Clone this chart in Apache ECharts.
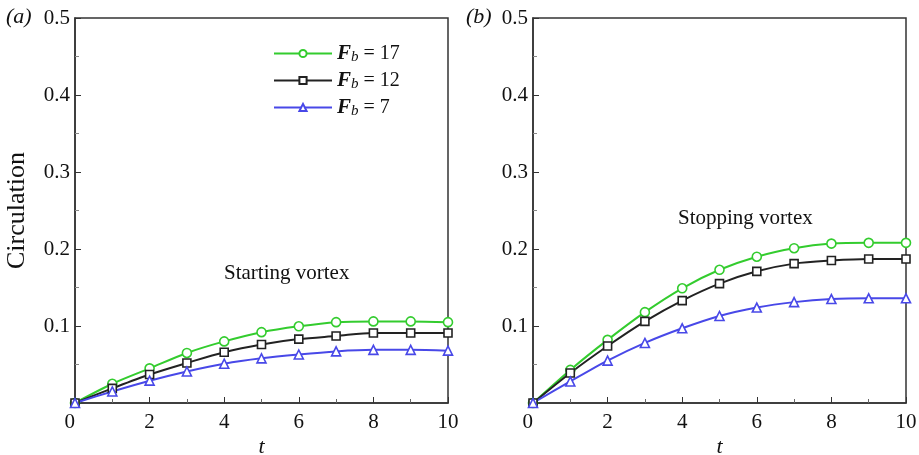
<!DOCTYPE html>
<html>
<head>
<meta charset="utf-8">
<script src="https://cdn.jsdelivr.net/npm/echarts@6/dist/echarts.min.js"></script>
<style>
  html, body { margin: 0; padding: 0; background: #fff; }
  #chart { width: 919px; height: 455px; }
</style>
</head>
<body>
<div id="chart"></div>
<script>
// time steps
const tValues = [0, 1, 2, 3, 4, 5, 6, 7, 8, 9, 10];

// (a) starting vortex
const startFb17 = [0, 0.025, 0.045, 0.065, 0.080, 0.092, 0.0996, 0.105, 0.106, 0.106, 0.105];
const startFb12 = [0, 0.019, 0.037, 0.052, 0.066, 0.076, 0.083, 0.087, 0.091, 0.091, 0.091];
const startFb7 = [0, 0.015, 0.029, 0.041, 0.051, 0.058, 0.063, 0.067, 0.069, 0.069, 0.068];

// (b) stopping vortex
const stopFb17 = [0, 0.043, 0.082, 0.118, 0.149, 0.173, 0.190, 0.201, 0.207, 0.208, 0.208];
const stopFb12 = [0, 0.039, 0.074, 0.106, 0.133, 0.155, 0.171, 0.181, 0.185, 0.187, 0.187];
const stopFb7 = [0, 0.028, 0.055, 0.078, 0.097, 0.113, 0.124, 0.131, 0.135, 0.136, 0.136];

const legendNames = ["Fb17", "Fb12", "Fb7"];
const legendLabels = { Fb17: "17", Fb12: "12", Fb7: "7" };

const serif = "Liberation Serif";
const green = "#33cc2e";
const black = "#222222";
const blue = "#4848e8";

const pairs = (ys) => tValues.map((t, i) => [t, ys[i]]);

function mkSeries(name, ys, idx, color, symbol, size) {
  return {
    name: name,
    type: "line",
    xAxisIndex: idx,
    yAxisIndex: idx,
    data: pairs(ys),
    smooth: 0.3,
    symbol: symbol,
    symbolSize: size,
    showSymbol: true,
    lineStyle: { color: color, width: 2 },
    itemStyle: { color: "#fff", borderColor: color, borderWidth: 1.6 },
    z: 3,
  };
}

function mkX(idx) {
  return {
    type: "value",
    gridIndex: idx,
    min: 0,
    max: 10,
    interval: 2,
    name: "t",
    nameLocation: "middle",
    nameGap: 33,
    nameMoveOverlap: false,
    nameTextStyle: { fontFamily: serif, fontStyle: "italic", fontSize: 22, color: "#111", verticalAlign: "top" },
    axisLine: { lineStyle: { color: "#333", width: 1.5 } },
    axisTick: { inside: true, length: 6, lineStyle: { color: "#333" } },
    minorTick: { show: true, splitNumber: 2, length: 4, lineStyle: { color: "#666" } },
    axisLabel: { fontFamily: serif, fontSize: 21, color: "#111", margin: 9, alignMinLabel: "right" },
    splitLine: { show: false },
  };
}

function mkY(idx, withName) {
  return {
    type: "value",
    gridIndex: idx,
    min: 0,
    max: 0.5,
    interval: 0.1,
    name: withName ? "Circulation" : "",
    nameLocation: "middle",
    nameGap: 45,
    nameTextStyle: { fontFamily: serif, fontSize: 26, color: "#111" },
    axisLine: { lineStyle: { color: "#333", width: 1.5 } },
    axisTick: { inside: true, length: 6, lineStyle: { color: "#333" } },
    minorTick: { show: true, splitNumber: 2, length: 4, lineStyle: { color: "#888" } },
    axisLabel: {
      fontFamily: serif,
      fontSize: 21,
      color: "#111",
      margin: 5,
      formatter: (v) => (v === 0 ? "" : v.toFixed(1)),
    },
    splitLine: { show: false },
  };
}

const gridBase = { top: 18, bottom: 52, show: true, borderColor: "#333", borderWidth: 1.5, containLabel: false, outerBoundsMode: "none" };

const option = {
  animation: false,
  backgroundColor: "#fff",
  grid: [
    Object.assign({ left: 75, right: 471 }, gridBase),
    Object.assign({ left: 533, right: 13 }, gridBase),
  ],
  legend: {
    data: legendNames,
    orient: "vertical",
    left: 268,
    top: 38,
    itemWidth: 58,
    itemHeight: 9,
    itemGap: 5,
    formatter: (name) => "{f|F}{s|b}{n| = " + legendLabels[name] + "}",
    textStyle: {
      rich: {
        f: { fontFamily: serif, fontSize: 21, fontWeight: "bold", fontStyle: "italic", color: "#111" },
        s: { fontFamily: serif, fontSize: 15, fontStyle: "italic", color: "#111", verticalAlign: "bottom", padding: [8, 0, 0, 0] },
        n: { fontFamily: serif, fontSize: 20, color: "#111" },
      },
    },
  },
  xAxis: [mkX(0), mkX(1)],
  yAxis: [mkY(0, true), mkY(1, false)],
  series: [
    mkSeries("Fb17", startFb17, 0, green, "circle", 9),
    mkSeries("Fb12", startFb12, 0, black, "rect", 8),
    mkSeries("Fb7", startFb7, 0, blue, "triangle", 9),
    mkSeries("Fb17", stopFb17, 1, green, "circle", 9),
    mkSeries("Fb12", stopFb12, 1, black, "rect", 8),
    mkSeries("Fb7", stopFb7, 1, blue, "triangle", 9),
  ],
  graphic: [
    { type: "text", left: 6, top: 6, style: { text: "(a)", font: "italic 22px 'Liberation Serif'", fill: "#111" } },
    { type: "text", left: 466, top: 6, style: { text: "(b)", font: "italic 22px 'Liberation Serif'", fill: "#111" } },
    { type: "text", left: 224, top: 263, style: { text: "Starting vortex", font: "21px 'Liberation Serif'", fill: "#111" } },
    { type: "text", left: 678, top: 208, style: { text: "Stopping vortex", font: "21px 'Liberation Serif'", fill: "#111" } },
  ],
};

const myChart = echarts.init(document.getElementById("chart"));
myChart.setOption(option);
window.addEventListener("resize", () => myChart.resize());
</script>
</body>
</html>
